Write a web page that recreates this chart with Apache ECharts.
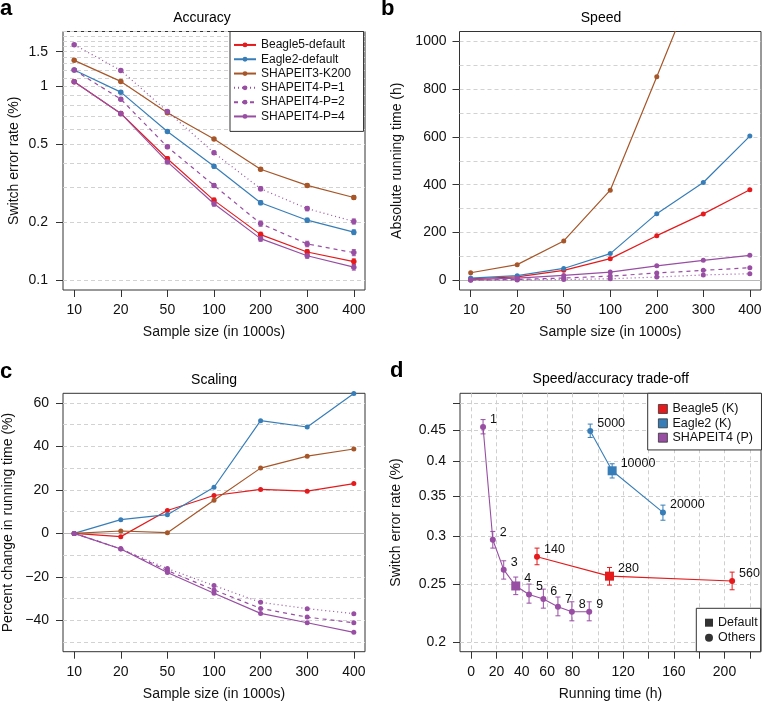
<!DOCTYPE html>
<html><head><meta charset="utf-8">
<script src="https://cdn.jsdelivr.net/npm/echarts@6/dist/echarts.min.js"></script>
<style>html,body{margin:0;padding:0;background:#fff}#chart{width:762px;height:701px}</style>
</head><body><div id="chart"></div>
<script>
// ---------- data ----------
const sampleSizes = ['10', '20', '50', '100', '200', '300', '400'];
const seriesNames = ['Beagle5-default', 'Eagle2-default', 'SHAPEIT3-K200', 'SHAPEIT4-P=1', 'SHAPEIT4-P=2', 'SHAPEIT4-P=4'];

// a: Accuracy (switch error rate %)
const accBeagle5 = [1.05, 0.722, 0.422, 0.258, 0.172, 0.140, 0.125];
const accEagle2 = [1.206, 0.929, 0.583, 0.386, 0.251, 0.204, 0.177];
const accShapeit3 = [1.353, 1.055, 0.727, 0.534, 0.373, 0.308, 0.267];
const accP1 = [1.628, 1.201, 0.739, 0.453, 0.296, 0.234, 0.201];
const accP2 = [1.206, 0.855, 0.486, 0.308, 0.196, 0.154, 0.139];
const accP4 = [1.05, 0.722, 0.407, 0.248, 0.164, 0.134, 0.117];
// half-widths of error bars
const accErrBeagle5 = [0.02, 0.015, 0.01, 0.007, 0.005, 0.004, 0.004];
const accErrEagle2 = [0.02, 0.015, 0.01, 0.008, 0.006, 0.005, 0.005];
const accErrShapeit3 = [0.02, 0.015, 0.01, 0.008, 0.007, 0.006, 0.006];
const accErrP1 = [0.02, 0.015, 0.01, 0.009, 0.007, 0.006, 0.006];
const accErrP2 = [0.02, 0.015, 0.01, 0.007, 0.006, 0.005, 0.005];
const accErrP4 = [0.02, 0.015, 0.01, 0.007, 0.005, 0.004, 0.004];

// b: Speed (absolute running time h)
const timeBeagle5 = [7, 15, 42, 91, 187, 278, 379];
const timeEagle2 = [10, 20, 50, 112, 279, 409, 603];
const timeShapeit3 = [32, 66, 165, 377, 851, 1330, 1800];
const timeP1 = [1, 2, 4, 7, 14, 23, 28];
const timeP2 = [1.5, 4, 10, 18, 31, 42, 53];
const timeP4 = [3, 10, 21, 35, 61, 84, 105];

// c: Scaling (percent change in running time)
const scaleBeagle5 = [0, -1.5, 10.5, 17.4, 20.2, 19.4, 22.9];
const scaleEagle2 = [0, 6.3, 8.6, 21.2, 51.8, 48.9, 64.3];
const scaleShapeit3 = [0, 1.1, 0.3, 15.2, 30.0, 35.5, 38.8];
const scaleP1 = [0, -7.1, -16.2, -24.0, -31.7, -34.6, -36.9];
const scaleP2 = [0, -7.1, -17.1, -26.0, -34.5, -38.5, -41.1];
const scaleP4 = [0, -7.2, -18.0, -27.5, -36.8, -41.1, -45.5];

// d: Speed/accuracy trade-off
const s4Labels = ['1', '2', '3', '4', '5', '6', '7', '8', '9'];
const s4Time = [9.4, 17.1, 25.7, 35.2, 45.7, 57.0, 68.5, 79.5, 93.2];
const s4Err = [0.456, 0.296, 0.264, 0.248, 0.240, 0.236, 0.229, 0.2247, 0.2247];
const s4Lo = [0.444, 0.2867, 0.2546, 0.2399, 0.2322, 0.2278, 0.2212, 0.217, 0.217];
const s4Hi = [0.469, 0.3056, 0.2731, 0.2566, 0.2498, 0.245, 0.2377, 0.2334, 0.2334];
const s4Default = 3;
const b5Labels = ['140', '280', '560'];
const b5Time = [52.0, 109.2, 206.0];
const b5Err = [0.2774, 0.2575, 0.2527];
const b5Lo = [0.269, 0.2488, 0.2444];
const b5Hi = [0.2867, 0.2662, 0.2615];
const b5Default = 1;
const e2Labels = ['5000', '10000', '20000'];
const e2Time = [94.0, 111.3, 151.4];
const e2Err = [0.449, 0.3855, 0.3287];
const e2Lo = [0.438, 0.375, 0.319];
const e2Hi = [0.461, 0.396, 0.338];
const e2Default = 1;

// ticks
const yTicksA = [0.1, 0.2, 0.5, 1, 1.5];
const gridLinesA = [0.1, 0.2, 0.3, 0.4, 0.5, 0.6, 0.7, 0.8, 0.9, 1.0, 1.1, 1.2, 1.3, 1.4, 1.5, 1.6, 1.7, 1.8, 1.9];
const yTicksB = [0, 200, 400, 600, 800, 1000];
const gridLinesB = [100, 200, 300, 400, 500, 600, 700, 800, 900, 1000];
const yTicksC = [-40, -20, 0, 20, 40, 60];
const gridLinesC = [-50, -40, -30, -20, -10, 10, 20, 30, 40, 50, 60];
const xTicksD = [0, 20, 40, 60, 80, 100, 120, 140, 160, 180, 200, 220];
const xLabelsD = [0, 20, 40, 60, 80, 120, 160, 200];
const yTicksD = [0.2, 0.25, 0.3, 0.35, 0.4, 0.45, 0.5];
const yLabelsD = [0.2, 0.25, 0.3, 0.35, 0.4, 0.45];

// ---------- styles ----------
const FONT = "'Liberation Sans', Arial, Helvetica, sans-serif";
const TXT = '#111';
const RED = '#E41A1C', BLUE = '#377EB8', BROWN = '#A65628', PURPLE = '#984EA3';
const colors = [RED, BLUE, BROWN, PURPLE, PURPLE, PURPLE];
const dashTypes = ['solid', 'solid', 'solid', [1, 3], [4, 4], 'solid'];
const GRIDLINE = {color: '#d2d2d2', type: [4, 3], width: 1};

const grids = [
  {left: 63, top: 31.5, width: 302, height: 258.5},
  {left: 459.5, top: 31.5, width: 301.5, height: 258.5},
  {left: 63, top: 393.3, width: 302, height: 258.4},
  {left: 460, top: 393.3, width: 301, height: 258.4}
].map(g => Object.assign({show: true, borderColor: '#333', borderWidth: 1, backgroundColor: 'transparent', containLabel: false, outerBoundsMode: 'none'}, g));

const idx = sampleSizes.map((_, i) => i);
function sampleXAxis(gridIndex, nameGap) {
  return {
    type: 'value', gridIndex, min: -0.24, max: 6.24, position: 'bottom',
    axisLine: {show: false, onZero: false}, splitLine: {show: false},
    axisTick: {show: true, inside: false, length: 7, customValues: idx, lineStyle: {color: '#333', width: 1}},
    axisLabel: {customValues: idx, formatter: v => sampleSizes[Math.round(v)], margin: 13, fontSize: 14, color: TXT, fontFamily: FONT},
    name: 'Sample size (in 1000s)', nameLocation: 'middle', nameGap, nameMoveOverlap: false,
    nameTextStyle: {fontSize: 14, color: TXT, fontFamily: FONT}
  };
}
function labelYAxis(o) {
  return Object.assign({
    axisLine: {show: false, onZero: false}, splitLine: {show: false}, position: 'left',
    axisTick: {show: true, inside: false, length: 7, customValues: o.ticks, lineStyle: {color: '#333', width: 1}},
    axisLabel: {customValues: o.labels || o.ticks, formatter: o.fmt, margin: o.margin, fontSize: 14, color: TXT, fontFamily: FONT},
    nameLocation: 'middle', nameMoveOverlap: false,
    nameTextStyle: {fontSize: 14, color: TXT, fontFamily: FONT}
  }, o.base);
}
function gridYAxis(base, values, lineStyle) {
  return Object.assign({
    position: 'left', offset: 0,
    axisLine: {show: false, onZero: false}, axisLabel: {show: false},
    axisTick: {show: false, customValues: values},
    splitLine: {show: true, lineStyle}
  }, base);
}
const fmtNum = v => String(+(+v).toFixed(3));
const fmtMinus = v => (v < 0 ? '\u2212' + (-v) : String(v));

const xAxis = [
  sampleXAxis(0, 35),
  sampleXAxis(1, 35),
  sampleXAxis(2, 35),
  {
    type: 'value', gridIndex: 3, min: -8.8, max: 228.8, position: 'bottom',
    axisLine: {show: false, onZero: false},
    axisTick: {show: true, inside: false, length: 7, customValues: xTicksD, lineStyle: {color: '#333'}},
    axisLabel: {customValues: xLabelsD, margin: 13, fontSize: 14, color: TXT, fontFamily: FONT},
    splitLine: {show: true, lineStyle: {color: '#cfcfcf', type: [4, 3], width: 1}},
    name: 'Running time (h)', nameLocation: 'middle', nameGap: 35, nameMoveOverlap: false,
    nameTextStyle: {fontSize: 14, color: TXT, fontFamily: FONT}
  }
];

const yAxis = [
  // 0: panel a labels
  labelYAxis({base: {type: 'log', logBase: 10, gridIndex: 0, min: 0.0893, max: 1.904, name: 'Switch error rate (%)', nameGap: 42}, ticks: yTicksA, fmt: fmtNum, margin: 15}),
  // 1: panel a grid lines
  gridYAxis({type: 'log', logBase: 10, gridIndex: 0, min: 0.0893, max: 1.904}, gridLinesA, GRIDLINE),
  // 2: panel b labels
  labelYAxis({base: {type: 'value', gridIndex: 1, min: -40, max: 1040, name: 'Absolute running time (h)', nameGap: 55}, ticks: yTicksB, fmt: v => String(v), margin: 13}),
  // 3: panel b grid lines
  gridYAxis({type: 'value', gridIndex: 1, min: -40, max: 1040}, gridLinesB, GRIDLINE),
  // 4: panel b zero line
  gridYAxis({type: 'value', gridIndex: 1, min: -40, max: 1040}, [0], {color: '#b8b8b8', type: 'solid', width: 1}),
  // 5: panel c labels
  labelYAxis({base: {type: 'value', gridIndex: 2, min: -54.4, max: 64.4, name: 'Percent change in running time (%)', nameGap: 48}, ticks: yTicksC, fmt: fmtMinus, margin: 14}),
  // 6: panel c grid lines
  gridYAxis({type: 'value', gridIndex: 2, min: -54.4, max: 64.4}, gridLinesC, GRIDLINE),
  // 7: panel c zero line
  gridYAxis({type: 'value', gridIndex: 2, min: -54.4, max: 64.4}, [0], {color: '#b8b8b8', type: 'solid', width: 1}),
  // 8: panel d
  Object.assign(labelYAxis({base: {type: 'log', logBase: 10, gridIndex: 3, min: 0.1928, max: 0.5187, name: 'Switch error rate (%)', nameGap: 57}, ticks: yTicksD, labels: yLabelsD, fmt: fmtNum, margin: 14}),
    {splitLine: {show: true, lineStyle: {color: '#cfcfcf', type: [4, 3], width: 1}}})
];

// ---------- series ----------
function errRender(capHalf) {
  return function (params, api) {
    const x = api.value(0), lo = api.value(1), hi = api.value(2);
    const p1 = api.coord([x, lo]), p2 = api.coord([x, hi]);
    const style = {stroke: api.visual('color'), lineWidth: 1};
    return {type: 'group', children: [
      {type: 'line', shape: {x1: p1[0], y1: p1[1], x2: p2[0], y2: p2[1]}, style},
      {type: 'line', shape: {x1: p1[0] - capHalf, y1: p1[1], x2: p1[0] + capHalf, y2: p1[1]}, style},
      {type: 'line', shape: {x1: p2[0] - capHalf, y1: p2[1], x2: p2[0] + capHalf, y2: p2[1]}, style}
    ]};
  };
}
function lineSeries(name, values, k, xi, yi, size) {
  return {
    type: 'line', name, xAxisIndex: xi, yAxisIndex: yi,
    data: values.map((v, i) => [i, v]),
    symbol: 'circle', symbolSize: size, showSymbol: true,
    itemStyle: {color: colors[k]},
    lineStyle: {color: colors[k], width: 1.2, type: dashTypes[k]},
    emphasis: {disabled: true}, silent: true, clip: true, z: 3 + k * 0.01
  };
}
function errSeries(values, errs, k, xi, yi) {
  return {
    type: 'custom', name: 'err-' + k, xAxisIndex: xi, yAxisIndex: yi,
    data: values.map((v, i) => [i, v - errs[i], v + errs[i]]),
    encode: {x: 0, y: [1, 2]}, itemStyle: {color: colors[k]},
    renderItem: errRender(2), silent: true, z: 3
  };
}

const accAll = [accBeagle5, accEagle2, accShapeit3, accP1, accP2, accP4];
const accErrAll = [accErrBeagle5, accErrEagle2, accErrShapeit3, accErrP1, accErrP2, accErrP4];
const timeAll = [timeBeagle5, timeEagle2, timeShapeit3, timeP1, timeP2, timeP4];
const scaleAll = [scaleBeagle5, scaleEagle2, scaleShapeit3, scaleP1, scaleP2, scaleP4];

const series = [];
accAll.forEach((vals, k) => series.push(errSeries(vals, accErrAll[k], k, 0, 0)));
accAll.forEach((vals, k) => series.push(lineSeries(seriesNames[k], vals, k, 0, 0, 5.5)));
timeAll.forEach((vals, k) => series.push(lineSeries(seriesNames[k], vals, k, 1, 2, 5)));
scaleAll.forEach((vals, k) => series.push(lineSeries(seriesNames[k], vals, k, 2, 5, 5)));

function tradeSeries(name, color, labels, times, errs, lo, hi, defIdx) {
  series.push({
    type: 'custom', name: name + '-err', xAxisIndex: 3, yAxisIndex: 8,
    data: times.map((t, i) => [t, lo[i], hi[i]]),
    encode: {x: 0, y: [1, 2]}, itemStyle: {color}, renderItem: errRender(2.5), silent: true, z: 3
  });
  series.push({
    type: 'line', name, xAxisIndex: 3, yAxisIndex: 8,
    data: times.map((t, i) => ({
      name: labels[i], value: [t, errs[i]],
      symbol: i === defIdx ? 'rect' : 'circle', symbolSize: i === defIdx ? 9 : 6
    })),
    itemStyle: {color}, lineStyle: {color, width: 1.1},
    label: {show: true, formatter: '{b}', position: 'right', distance: 4, offset: [0, -7.5], fontSize: 12.5, color: TXT, fontFamily: FONT},
    emphasis: {disabled: true}, silent: true, z: 4
  });
}
tradeSeries('Beagle5 (K)', RED, b5Labels, b5Time, b5Err, b5Lo, b5Hi, b5Default);
tradeSeries('Eagle2 (K)', BLUE, e2Labels, e2Time, e2Err, e2Lo, e2Hi, e2Default);
tradeSeries('SHAPEIT4 (P)', PURPLE, s4Labels, s4Time, s4Err, s4Lo, s4Hi, s4Default);
series.push({type: 'scatter', name: 'Default', xAxisIndex: 3, yAxisIndex: 8, data: [], symbol: 'rect', itemStyle: {color: '#000'}});
series.push({type: 'scatter', name: 'Others', xAxisIndex: 3, yAxisIndex: 8, data: [], symbol: 'circle', itemStyle: {color: '#000'}});

// ---------- legends ----------
const legend = [
  {
    orient: 'vertical', left: 230, top: 31.5, padding: [6.3, 12.5, 7.8, 3],
    itemWidth: 22, itemHeight: 6, itemGap: 0, selectedMode: false,
    textStyle: {fontSize: 12, lineHeight: 14.3, color: TXT, fontFamily: FONT},
    borderColor: '#333', borderWidth: 1, borderRadius: 0, backgroundColor: '#fff',
    data: seriesNames
  },
  {
    orient: 'vertical', left: 647.7, top: 393.3, padding: [8.5, 8.5, 5.1, 10.3],
    itemWidth: 9, itemHeight: 9, itemGap: 0, selectedMode: false, icon: 'rect',
    itemStyle: {borderColor: '#333', borderWidth: 0.8},
    textStyle: {fontSize: 12.5, lineHeight: 14.35, color: TXT, fontFamily: FONT},
    borderColor: '#333', borderWidth: 1, borderRadius: 0, backgroundColor: '#fff',
    data: ['Beagle5 (K)', 'Eagle2 (K)', 'SHAPEIT4 (P)']
  },
  {
    orient: 'vertical', left: 696.3, top: 608.3, padding: [6.9, 3, 6.5, 8.7],
    itemWidth: 8, itemHeight: 8, itemGap: 0, selectedMode: false,
    textStyle: {fontSize: 12.5, lineHeight: 15, color: TXT, fontFamily: FONT},
    borderColor: '#333', borderWidth: 1, borderRadius: 0, backgroundColor: '#fff',
    data: [{name: 'Default', icon: 'rect'}, {name: 'Others', icon: 'circle'}]
  }
];

// ---------- titles and panel letters ----------
function txt(text, x, y, size, weight, align) {
  return {type: 'text', x, y, silent: true, z: 10, style: {
    text, fill: '#000', font: `${weight} ${size}px ${FONT}`,
    align, textAlign: align, verticalAlign: 'middle', textVerticalAlign: 'middle'
  }};
}
const graphic = [
  txt('Accuracy', 202, 18, 14, 'normal', 'center'),
  txt('Speed', 601, 18, 14, 'normal', 'center'),
  txt('Scaling', 214, 380, 14, 'normal', 'center'),
  txt('Speed/accuracy trade-off', 610.7, 379, 14, 'normal', 'center'),
  txt('a', 0, 9.4, 22, 'bold', 'left'),
  txt('b', 381, 9.1, 22, 'bold', 'left'),
  txt('c', 0, 372.4, 22, 'bold', 'left'),
  txt('d', 390, 370.7, 22, 'bold', 'left')
];

const chart = echarts.init(document.getElementById('chart'), null, {renderer: 'canvas', width: 762, height: 701});
chart.setOption({
  animation: false, backgroundColor: '#fff',
  textStyle: {fontFamily: FONT},
  grid: grids, xAxis, yAxis, series, legend, graphic
});
</script></body></html>
